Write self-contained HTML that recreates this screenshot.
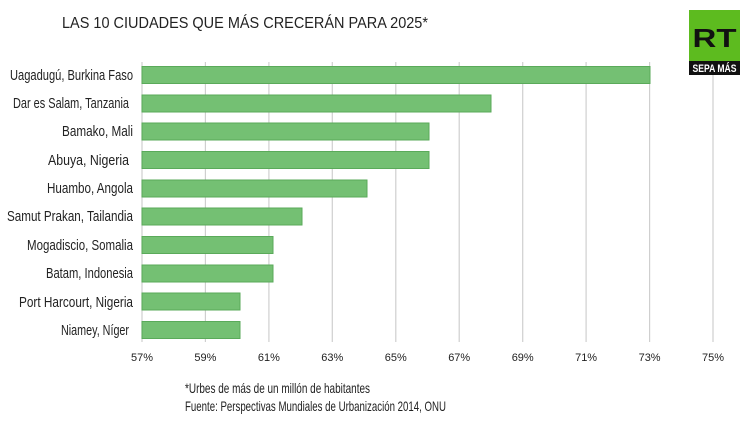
<!DOCTYPE html>
<html><head><style>
body{margin:0;background:#fff;}
svg text{font-family:"Liberation Sans Narrow","Liberation Sans",sans-serif;fill:#222;}
</style></head><body>
<svg width="750" height="424" xmlns="http://www.w3.org/2000/svg">
<rect width="750" height="424" fill="#fff"/>
<text x="62" y="28" font-size="16" textLength="366" lengthAdjust="spacingAndGlyphs">LAS 10 CIUDADES QUE MÁS CRECERÁN PARA 2025*</text>
<g stroke="#cfcfcf" stroke-width="1.2">
<line x1="142" y1="62" x2="142" y2="342"/><line x1="205.4" y1="62" x2="205.4" y2="342"/><line x1="268.9" y1="62" x2="268.9" y2="342"/><line x1="332.3" y1="62" x2="332.3" y2="342"/><line x1="395.8" y1="62" x2="395.8" y2="342"/><line x1="459.2" y1="62" x2="459.2" y2="342"/><line x1="522.7" y1="62" x2="522.7" y2="342"/><line x1="586.1" y1="62" x2="586.1" y2="342"/><line x1="649.6" y1="62" x2="649.6" y2="342"/><line x1="713" y1="62" x2="713" y2="342"/>
</g>
<rect x="689" y="10" width="51" height="51" fill="#5dbb1f"/>
<text x="714.5" y="47" font-size="26" font-weight="bold" text-anchor="middle" style="fill:#111" textLength="44" lengthAdjust="spacingAndGlyphs">RT</text>
<rect x="689" y="61" width="51" height="14" fill="#111"/>
<text x="714.5" y="72" font-size="11" font-weight="bold" text-anchor="middle" style="fill:#fff" textLength="44" lengthAdjust="spacingAndGlyphs">SEPA MÁS</text>
<g fill="#74c073" stroke="#5aaa5a" stroke-width="1">
<rect x="142" y="66.5" width="508" height="17"/>
<rect x="142" y="95" width="349" height="17"/>
<rect x="142" y="123" width="287" height="17"/>
<rect x="142" y="151.5" width="287" height="17"/>
<rect x="142" y="180" width="225" height="17"/>
<rect x="142" y="208" width="160" height="17"/>
<rect x="142" y="236.5" width="131" height="17"/>
<rect x="142" y="265" width="131" height="17"/>
<rect x="142" y="293" width="98" height="17"/>
<rect x="142" y="321.5" width="98" height="17"/>
</g>
<g font-size="15">
<text x="10" y="80" textLength="123" lengthAdjust="spacingAndGlyphs">Uagadugú, Burkina Faso</text>
<text x="13" y="108" textLength="116" lengthAdjust="spacingAndGlyphs">Dar es Salam, Tanzania</text>
<text x="62" y="136" textLength="71" lengthAdjust="spacingAndGlyphs">Bamako, Mali</text>
<text x="48" y="165" textLength="81" lengthAdjust="spacingAndGlyphs">Abuya, Nigeria</text>
<text x="47" y="193" textLength="86" lengthAdjust="spacingAndGlyphs">Huambo, Angola</text>
<text x="7" y="221" textLength="126" lengthAdjust="spacingAndGlyphs">Samut Prakan, Tailandia</text>
<text x="27" y="250" textLength="106" lengthAdjust="spacingAndGlyphs">Mogadiscio, Somalia</text>
<text x="46" y="278" textLength="87" lengthAdjust="spacingAndGlyphs">Batam, Indonesia</text>
<text x="19" y="307" textLength="114" lengthAdjust="spacingAndGlyphs">Port Harcourt, Nigeria</text>
<text x="61" y="335" textLength="68" lengthAdjust="spacingAndGlyphs">Niamey, Níger</text>
</g>
<g font-size="11" text-anchor="middle">
<text x="142" y="361" textLength="22" lengthAdjust="spacingAndGlyphs">57%</text><text x="205.4" y="361" textLength="22" lengthAdjust="spacingAndGlyphs">59%</text><text x="268.9" y="361" textLength="22" lengthAdjust="spacingAndGlyphs">61%</text><text x="332.3" y="361" textLength="22" lengthAdjust="spacingAndGlyphs">63%</text><text x="395.8" y="361" textLength="22" lengthAdjust="spacingAndGlyphs">65%</text><text x="459.2" y="361" textLength="22" lengthAdjust="spacingAndGlyphs">67%</text><text x="522.7" y="361" textLength="22" lengthAdjust="spacingAndGlyphs">69%</text><text x="586.1" y="361" textLength="22" lengthAdjust="spacingAndGlyphs">71%</text><text x="649.6" y="361" textLength="22" lengthAdjust="spacingAndGlyphs">73%</text><text x="713" y="361" textLength="22" lengthAdjust="spacingAndGlyphs">75%</text>
</g>
<text x="185" y="393" font-size="14" textLength="185" lengthAdjust="spacingAndGlyphs">*Urbes de más de un millón de habitantes</text>
<text x="185" y="411" font-size="14" textLength="261" lengthAdjust="spacingAndGlyphs">Fuente: Perspectivas Mundiales de Urbanización 2014, ONU</text>
</svg>
</body></html>
